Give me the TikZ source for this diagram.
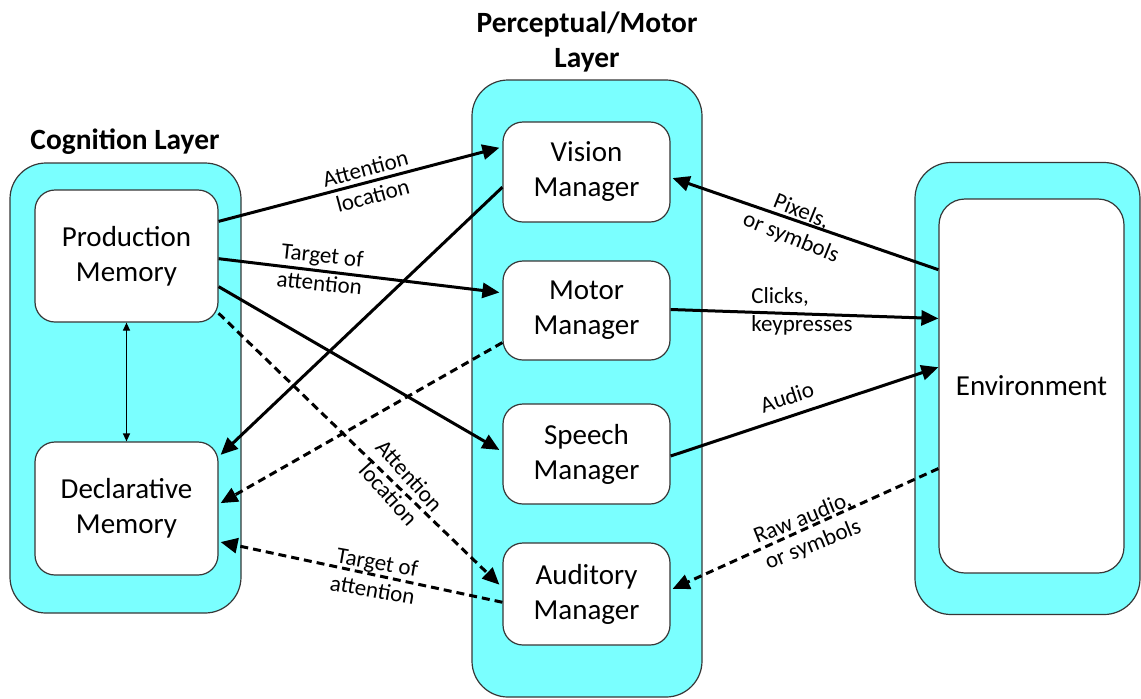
\documentclass[tikz,border=0pt]{standalone}
\usepackage{fontspec}
\setmainfont{Carlito}
\usetikzlibrary{arrows.meta,calc}
\definecolor{cyanfill}{RGB}{122,255,255}
\definecolor{edgegray}{RGB}{55,55,55}
\begin{document}
\begin{tikzpicture}[x=0.5pt,y=-0.5pt,
  layerbox/.style={draw=edgegray,fill=cyanfill,rounded corners=18pt,line width=0.6pt,inner sep=0pt},
  mgrbox/.style={draw=edgegray,fill=white,rounded corners=10pt,line width=0.6pt,inner sep=0pt,align=center,font=\fontsize{14.5}{17.5}\selectfont},
  title/.style={align=center,font=\fontsize{14.7}{17.5}\selectfont\bfseries},
  lbl/.style={align=center,font=\fontsize{11.5}{14}\selectfont,inner sep=0pt},
  arr/.style={line width=1.5pt,-{Triangle[length=8.5pt,width=7.5pt]}},
  darr/.style={arr,dash pattern=on 4pt off 2.5pt},
  thinarr/.style={line width=0.6pt,{Triangle[length=4pt,width=3.5pt]}-{Triangle[length=4pt,width=3.5pt]}}
]
\useasboundingbox (0,0) rectangle (1141,698);

% layers
\node[layerbox,minimum width=115.5pt,minimum height=225pt] (cog) at (125.5,388) {};
\node[layerbox,minimum width=115pt,minimum height=308.5pt] (pml) at (587,388.5) {};
\node[layerbox,minimum width=112.5pt,minimum height=226pt] (envl) at (1027.5,388.5) {};

% titles
\node[title] (t1) at (587,42) {Perceptual/Motor\\Layer};
\node[title] (t2) at (125,142) {Cognition Layer};

% boxes
\node[mgrbox,minimum width=91.5pt,minimum height=66pt] (pm) at (126.5,256) {Production\\Memory};
\node[mgrbox,minimum width=91.5pt,minimum height=66.5pt] (dm) at (126.5,508.5) {Declarative\\Memory};
\node[mgrbox,minimum width=83.5pt,minimum height=50pt] (vm) at (586.5,172) {Vision\\Manager};
\node[mgrbox,minimum width=83.5pt,minimum height=49.5pt] (mm) at (586.5,310.5) {Motor\\Manager};
\node[mgrbox,minimum width=83.5pt,minimum height=50pt] (sm) at (586.5,454) {Speech\\Manager};
\node[mgrbox,minimum width=83.5pt,minimum height=51pt] (am) at (586.5,594) {Auditory\\Manager};
\node[mgrbox,rounded corners=13pt,minimum width=92.5pt,minimum height=187pt] (env) at (1031.5,386) {Environment};

% connectors
\draw[thinarr] (pm.south) -- (dm.north);
\draw[arr] ($(pm.north east)!0.24!(pm.south east)$) -- ([xshift=-1.5pt]$(vm.north west)!0.26!(vm.south west)$);
\draw[arr] ($(pm.north east)!0.52!(pm.south east)$) -- ([xshift=-1.5pt]$(mm.north west)!0.32!(mm.south west)$);
\draw[arr] ($(pm.north east)!0.73!(pm.south east)$) -- ([xshift=-1.5pt]$(sm.north west)!0.46!(sm.south west)$);
\draw[arr] ($(vm.north west)!0.65!(vm.south west)$) -- ([xshift=1pt]$(dm.north east)!0.10!(dm.south east)$);
\draw[darr] ($(mm.north west)!0.82!(mm.south west)$) -- ([xshift=1pt]$(dm.north east)!0.46!(dm.south east)$);
\draw[darr] ($(pm.north east)!0.93!(pm.south east)$) -- ([xshift=-1.5pt]$(am.north west)!0.41!(am.south west)$);
\draw[darr] ($(am.north west)!0.58!(am.south west)$) -- ([xshift=1pt]$(dm.north east)!0.75!(dm.south east)$);
\draw[arr] ($(env.north west)!0.19!(env.south west)$) -- ([xshift=1pt]$(vm.north east)!0.56!(vm.south east)$);
\draw[arr] ($(mm.north east)!0.49!(mm.south east)$) -- ($(env.north west)!0.32!(env.south west)$);
\draw[arr] ($(sm.north east)!0.52!(sm.south east)$) -- ($(env.north west)!0.45!(env.south west)$);
\draw[darr] ($(env.north west)!0.72!(env.south west)$) -- ([xshift=1pt]$(am.north east)!0.45!(am.south east)$);

% labels
\node[lbl,rotate=15] (l1) at (369,182) {Attention\\location};
\node[lbl,rotate=-6] (l2) at (321,269) {Target of\\attention};
\node[lbl,rotate=-48] (l3) at (399,485) {Attention\\location};
\node[lbl,rotate=-10] (l4) at (375,576) {Target of\\attention};
\node[lbl,rotate=-22] (l5) at (796,225) {Pixels,\\or symbols};
\node[lbl,align=left,anchor=west] (l6) at (751,311) {Clicks,\\keypresses};
\node[lbl,rotate=18] (l7) at (787,397) {Audio};
\node[lbl,rotate=22] (l8) at (808,532) {Raw audio,\\or symbols};
\end{tikzpicture}
\end{document}
